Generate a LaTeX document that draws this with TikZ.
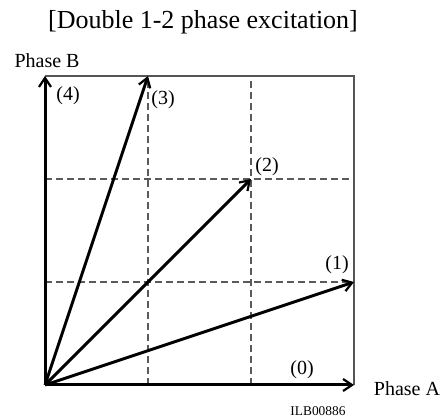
\documentclass[tikz,border=0pt]{standalone}
\usepackage{fontspec}
\setmainfont{Liberation Serif}
\usetikzlibrary{arrows.meta,positioning}
\definecolor{FrameGray}{HTML}{555555}
\definecolor{GridGray}{HTML}{5A5A5A}

\begin{document}
\begin{tikzpicture}[x=1pt,y=1pt,>={Straight Barb[length=9pt,width=12pt,line width=2.2pt]},
    vec/.style={->,line width=3pt},
    frame/.style={draw=FrameGray,line width=1.4pt},
    gridline/.style={draw=GridGray,line width=1.1pt,dash pattern=on 7pt off 4pt},
    lbl/.style={inner sep=0pt,font=\fontsize{20}{24}\selectfont}]
  \useasboundingbox (0,0) rectangle (447,420);
  % corners and grid points
  \coordinate (o) at (45,35);
  \coordinate (p0) at (354,35);
  \coordinate (p1) at (354,138);
  \coordinate (p2) at (251,241);
  \coordinate (p3) at (148,344);
  \coordinate (p4) at (45,344);
  \coordinate (corner) at (354,344);
  % dashed grid
  \draw[gridline] (148,35) -- (p3);
  \draw[gridline] (251,35) -- (251,344);
  \draw[gridline] (45,138) -- (p1);
  \draw[gridline] (45,241) -- (354,241);
  % frame
  \draw[frame] (p4) -- (corner) -- (p0);
  % vectors
  \draw[vec] (o) -- (p0);
  \draw[vec] (o) -- (p1);
  \draw[vec] (o) -- (p2);
  \draw[vec] (o) -- (p3);
  \draw[vec] (o) -- (p4);
  % labels
  \node[lbl] (l0) at (302,50) {(0)};
  \node[lbl] (l1) at (337,155) {(1)};
  \node[lbl] (l2) at (267,253) {(2)};
  \node[lbl] (l3) at (163,320) {(3)};
  \node[lbl] (l4) at (68,324) {(4)};
  \node[lbl] (phasea) at (407,31) {Phase A};
  \node[lbl] (phaseb) at (47,359) {Phase B};
  \node[inner sep=0pt,font=\fontsize{26}{30}\selectfont] (title) at (203,398) {[Double 1-2 phase excitation]};
  \node[inner sep=0pt,font=\fontsize{13.4}{16}\selectfont] (code) at (318,9) {ILB00886};
\end{tikzpicture}
\end{document}
